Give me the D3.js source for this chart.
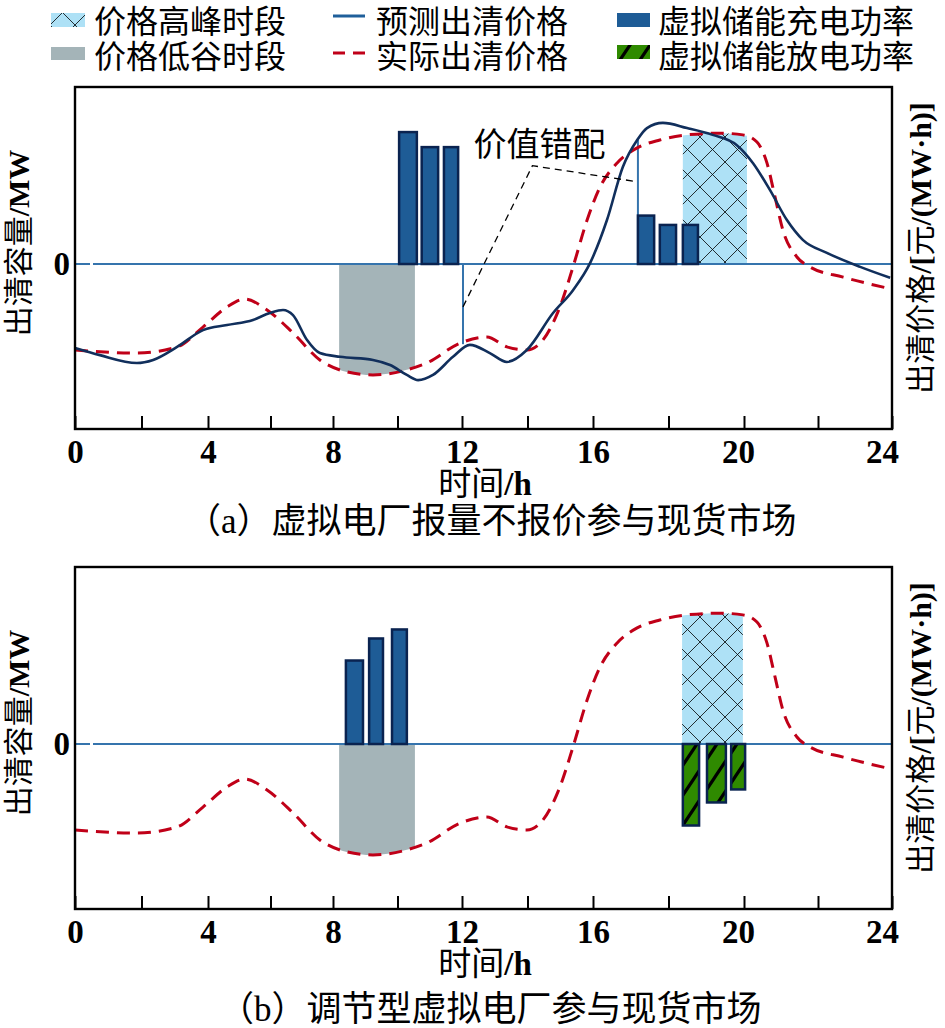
<!DOCTYPE html>
<html>
<head>
<meta charset="utf-8">
<script src="https://cdn.jsdelivr.net/npm/d3@7"></script>
<style>
  body { margin: 0; background: #fff; }
  text { font-family: "Liberation Serif", "Noto Sans CJK SC", serif; fill: #000; }
  .lat { font-weight: bold; }
</style>
</head>
<body>
<div id="chart"></div>
<script>
// ---- data (hours, price in relative units 0-100) ----
var actualHours = [0, 1.86, 3.07, 3.85, 4.61, 5.18, 5.89, 6.72, 7.58, 8.43, 9.24, 10.29, 10.91, 11.94, 12.76, 13.37, 13.98, 14.47, 14.99, 15.39, 15.82, 16.19, 16.64, 17.17, 17.77, 18.49, 19.36, 19.97, 20.35, 20.62, 20.84, 21.05, 21.43, 21.78, 22.68, 24];
var actualPrice = [23.1, 22.2, 24.0, 29.8, 35.7, 38.0, 34.8, 28.1, 20.2, 16.7, 15.8, 17.3, 19.3, 25.1, 26.9, 24.0, 23.1, 26.0, 35.7, 47.4, 61.1, 70.8, 77.8, 82.2, 84.5, 86.0, 86.5, 86.0, 83.9, 77.8, 67.8, 58.2, 50.3, 47.4, 44.4, 40.9];

var predHours = [0, 0.75, 1.86, 2.35, 3.07, 3.85, 4.61, 5.44, 5.98, 6.40, 6.72, 7.17, 7.58, 8.22, 9.24, 9.77, 10.29, 10.64, 11.10, 11.72, 12.24, 12.85, 13.37, 13.98, 14.78, 15.39, 15.91, 16.37, 16.79, 17.17, 17.43, 17.85, 18.49, 19.17, 19.81, 20.24, 20.70, 21.16, 21.59, 22.24, 23.14, 23.95];
var predPrice = [23.7, 21.6, 19.3, 20.2, 24.0, 28.9, 30.4, 31.9, 33.9, 34.8, 33.3, 26.0, 22.2, 21.1, 20.2, 18.7, 15.8, 14.3, 15.8, 21.1, 24.6, 22.2, 19.6, 23.1, 33.9, 40.6, 48.5, 61.1, 76.6, 84.5, 88.0, 89.5, 88.0, 86.0, 83.0, 77.8, 69.9, 61.1, 55.3, 51.5, 47.4, 44.2];

// storage charge bars (MW, relative) panel (a)
var chargeStartA = [10.05, 10.75, 11.44, 17.19, 17.77, 18.38];
var chargeEndA   = [10.60, 11.26, 11.88, 17.62, 18.20, 18.78];
var chargeValA   = [39.5, 35.0, 35.0, 14.5, 11.7, 11.7];

// panel (b)
var chargeStartB = [8.40, 9.12, 9.83];
var chargeEndB   = [8.93, 9.55, 10.29];
var chargeValB   = [25.0, 31.6, 34.3];
var dischargeStartB = [18.38, 19.02, 19.66];
var dischargeEndB   = [18.81, 19.52, 20.03];
var dischargeValB   = [-24.4, -17.5, -13.6];

var valleyA = [8.19, 10.54], peakA = [18.38, 20.08];
var valleyB = [8.19, 10.54], peakB = [18.36, 19.97];

// "价值错配" annotation
var mismatchHours = [12.03, 17.19];
var mismatchPrice = [24.8, 84.5];
var noteHours = [12.03, 14.15, 17.17];
var notePrice = [35.7, 77.0, 72.3];

var xTickLabels = [0, 4, 8, 12, 16, 20, 24];
var xTicks = d3.range(0, 25, 2);

// ---- layout ----
var W = 945, H = 1028;
var left = 75, pw = 817, ph = 342;

var svg = d3.select("#chart").append("svg")
  .attr("width", W).attr("height", H);
svg.append("rect").attr("width", W).attr("height", H).attr("fill", "#fff");

var defs = svg.append("defs");
var cross = defs.append("pattern").attr("id", "cross")
  .attr("patternUnits", "userSpaceOnUse").attr("width", 25).attr("height", 25);
cross.append("rect").attr("width", 25).attr("height", 25).attr("fill", "#aee1f6");
cross.append("path").attr("d", "M0,0L25,25M25,0L0,25")
  .attr("stroke", "#000").attr("stroke-width", 0.8);

var hatch = defs.append("pattern").attr("id", "hatch")
  .attr("patternUnits", "userSpaceOnUse").attr("width", 20).attr("height", 30);
hatch.append("rect").attr("width", 20).attr("height", 30).attr("fill", "#2f8a00");
hatch.append("path").attr("d", "M0,30L20,0M-3,4.5L3,-4.5M17,34.5L23,25.5")
  .attr("stroke", "#000").attr("stroke-width", 3.2);

// x scale follows the (slightly uneven) tick spacing of the figure
var x = d3.scaleLinear().domain(xTickLabels).range([0, 133, 258, 387, 518, 669, 817]);
var yCap = d3.scaleLinear().domain([-49.4, 53]).range([ph, 0]);
var yPrice = d3.scaleLinear().domain([0, 100]).range([ph, 0]);

var actual = d3.zip(actualHours, actualPrice);
var pred = d3.zip(predHours, predPrice);

var priceLine = d3.line().x(d => x(d[0])).y(d => yPrice(d[1])).curve(d3.curveMonotoneX);
var priceArea = d3.area().x(d => x(d[0])).y0(yCap(0)).y1(d => yPrice(d[1])).curve(d3.curveMonotoneX);

var clipCount = 0;

function bars(g, starts, ends, vals, fill) {
  g.selectAll(null)
    .data(d3.range(starts.length))
    .enter().append("rect")
    .attr("x", i => x(starts[i]))
    .attr("width", i => x(ends[i]) - x(starts[i]))
    .attr("y", i => Math.min(yCap(vals[i]), yCap(0)))
    .attr("height", i => Math.abs(yCap(vals[i]) - yCap(0)))
    .attr("fill", fill)
    .attr("stroke", "#0a2350")
    .attr("stroke-width", 2.5);
}

// text made of CJK parts and bold latin parts
function mixed(sel, parts) {
  parts.forEach(function (p, i) {
    sel.append("tspan").attr("class", i % 2 ? "lat" : null).text(p);
  });
  return sel;
}

function panel(top, opt) {
  var g = svg.append("g").attr("transform", "translate(" + left + "," + top + ")");
  var regs = g.append("g");
  [[opt.valley, "#a4b4b8"], [opt.peak, "url(#cross)"]].forEach(function (r) {
    var id = "clip" + (clipCount++);
    defs.append("clipPath").attr("id", id)
      .append("rect")
      .attr("x", x(r[0][0])).attr("y", 0)
      .attr("width", x(r[0][1]) - x(r[0][0])).attr("height", ph);
    regs.append("path").datum(actual)
      .attr("d", priceArea)
      .attr("fill", r[1])
      .attr("clip-path", "url(#" + id + ")");
  });

  // zero line
  g.append("line")
    .attr("x1", 0).attr("x2", pw)
    .attr("y1", yCap(0)).attr("y2", yCap(0))
    .attr("stroke", "#3574ad").attr("stroke-width", 2.2)
    .attr("stroke-dasharray", "15,3,2000");

  opt.extra && opt.extra(g, "under");

  bars(g, opt.chargeStart, opt.chargeEnd, opt.chargeVal, "#1e5c96");
  if (opt.dischargeStart) bars(g, opt.dischargeStart, opt.dischargeEnd, opt.dischargeVal, "url(#hatch)");

  g.append("path").datum(actual)
    .attr("d", priceLine)
    .attr("fill", "none")
    .attr("stroke", "#c00018").attr("stroke-width", 3)
    .attr("stroke-dasharray", "13,8");

  opt.extra && opt.extra(g, "over");

  // axis + frame
  var ax = d3.axisBottom(x)
    .tickValues(xTicks)
    .tickSizeInner(-13).tickSizeOuter(0).tickPadding(11)
    .tickFormat(d => xTickLabels.indexOf(d) >= 0 ? d : "");
  var axg = g.append("g").attr("transform", "translate(0," + ph + ")").call(ax);
  axg.select(".domain").remove();
  axg.selectAll(".tick line").attr("stroke", "#000").attr("stroke-width", 2);
  axg.selectAll(".tick text")
    .attr("font-size", 33)
    .attr("font-weight", "bold")
    .attr("dx", d => d === 24 ? -10 : d === 20 ? -6 : 0)
    .style("font-family", '"Liberation Serif", serif')
    .attr("fill", "#000");

  g.append("rect").attr("width", pw).attr("height", ph)
    .attr("fill", "none").attr("stroke", "#000").attr("stroke-width", 2.4);

  // zero label
  g.append("text").attr("x", -5).attr("y", yCap(0)).attr("dy", "0.33em")
    .attr("text-anchor", "end").attr("font-size", 33).attr("font-weight", "bold").text("0");

  // axis titles
  mixed(g.append("text")
    .attr("transform", "translate(-57," + 156 + ") rotate(-90)")
    .attr("dy", "0.36em").attr("text-anchor", "middle").attr("font-size", 30),
    ["出清容量", "/MW"]);
  mixed(g.append("text")
    .attr("transform", "translate(" + (pw + 28) + "," + 161 + ") rotate(-90)")
    .attr("dy", "0.36em").attr("text-anchor", "middle").attr("font-size", 30),
    ["出清价格", "/[", "元", "/(MW·h)]"]);

  mixed(g.append("text").attr("x", 410).attr("y", ph + 66)
    .attr("text-anchor", "middle").attr("font-size", 33), ["时间", "/h"]);

  g.append("text").attr("x", opt.capX - left).attr("y", ph + opt.capDy)
    .attr("font-size", 35).text(opt.caption);
}

// ---- panel (a) ----
panel(87, {
  valley: valleyA, peak: peakA,
  chargeStart: chargeStartA, chargeEnd: chargeEndA, chargeVal: chargeValA,
  caption: "（a）虚拟电厂报量不报价参与现货市场", capX: 186, capDy: 104,
  extra: function (g, layer) {
    if (layer === "under") {
      g.selectAll(null).data(d3.range(mismatchHours.length)).enter()
        .append("line")
        .attr("x1", i => x(mismatchHours[i])).attr("x2", i => x(mismatchHours[i]))
        .attr("y1", yCap(0)).attr("y2", i => yPrice(mismatchPrice[i]))
        .attr("stroke", "#3574ad").attr("stroke-width", 2);
    } else {
      g.append("path").datum(pred)
        .attr("d", priceLine)
        .attr("fill", "none")
        .attr("stroke", "#112f5c").attr("stroke-width", 2.6);
      g.append("path").datum(d3.zip(noteHours, notePrice))
        .attr("d", d3.line().x(d => x(d[0])).y(d => yPrice(d[1])))
        .attr("fill", "none").attr("stroke", "#000").attr("stroke-width", 1.3)
        .attr("stroke-dasharray", "7,5");
      g.append("text").attr("x", x(12.35)).attr("y", yPrice(79.8))
        .attr("font-size", 33).text("价值错配");
    }
  }
});

// ---- panel (b) ----
panel(567, {
  valley: valleyB, peak: peakB,
  chargeStart: chargeStartB, chargeEnd: chargeEndB, chargeVal: chargeValB,
  dischargeStart: dischargeStartB, dischargeEnd: dischargeEndB, dischargeVal: dischargeValB,
  caption: "（b）调节型虚拟电厂参与现货市场", capX: 219, capDy: 112
});

// ---- legend ----
var leg = svg.append("g").attr("font-size", 32);
leg.append("rect").attr("x", 51).attr("y", 13).attr("width", 34).attr("height", 14).attr("fill", "url(#cross)");
leg.append("rect").attr("x", 51).attr("y", 47).attr("width", 34).attr("height", 13).attr("fill", "#a4b4b8");
leg.append("line").attr("x1", 333).attr("x2", 365).attr("y1", 16).attr("y2", 16)
  .attr("stroke", "#1f5f9a").attr("stroke-width", 3);
leg.append("line").attr("x1", 333).attr("x2", 365).attr("y1", 53).attr("y2", 53)
  .attr("stroke", "#c00018").attr("stroke-width", 3).attr("stroke-dasharray", "12,8");
leg.append("rect").attr("x", 617).attr("y", 13).attr("width", 33).attr("height", 14).attr("fill", "#1e5c96");
leg.append("rect").attr("x", 617).attr("y", 45).attr("width", 33).attr("height", 14).attr("fill", "url(#hatch)");

var legText = [["价格高峰时段", 94, 33], ["价格低谷时段", 94, 68], ["预测出清价格", 376, 33],
               ["实际出清价格", 376, 68], ["虚拟储能充电功率", 658, 33], ["虚拟储能放电功率", 658, 68]];
leg.selectAll(null).data(legText).enter().append("text")
  .attr("x", d => d[1]).attr("y", d => d[2])
  .style("font-family", '"Noto Sans CJK SC", sans-serif')
  .text(d => d[0]);
</script>
</body>
</html>
